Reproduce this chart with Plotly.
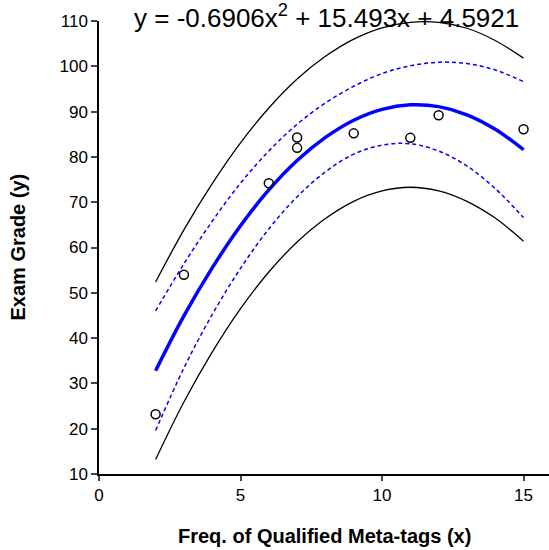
import plotly.graph_objects as go

# Observed data
x_obs = [2, 3, 6, 7, 7, 9, 11, 12, 15]
y_obs = [23.2, 54.0, 74.2, 84.3, 82.0, 85.2, 84.2, 89.2, 86.1]

# Curves at integer x
x_curve = [2, 3, 4, 5, 6, 7, 8, 9, 10, 11, 12, 13, 14, 15]
y_fit = [32.8, 44.9, 55.5, 64.8, 72.7, 79.2, 84.3, 88.1, 90.5, 91.5, 91.1, 89.3, 86.1, 81.6]
y_ci_upper = [46.0, 56.4, 65.8, 74.2, 81.3, 87.2, 91.9, 95.6, 98.4, 100.1, 100.9, 100.6, 99.2, 96.6]
y_ci_lower = [19.6, 33.4, 45.2, 55.4, 64.1, 71.2, 76.7, 80.6, 82.6, 82.9, 81.3, 78.0, 73.0, 66.6]
y_pi_upper = [52.4, 63.9, 74.1, 83.1, 90.8, 97.2, 102.2, 106.0, 108.5, 109.7, 109.7, 108.4, 105.7, 101.8]
y_pi_lower = [13.2, 25.9, 36.9, 46.5, 54.6, 61.2, 66.4, 70.2, 72.5, 73.3, 72.5, 70.2, 66.5, 61.4]

equation = "y = -0.6906x<sup>2</sup> + 15.493x + 4.5921"
x_title = "<b>Freq. of Qualified Meta-tags (x)</b>"
y_title = "<b>Exam Grade (y)</b>"
x_ticks = [0, 5, 10, 15]
y_ticks = [10, 20, 30, 40, 50, 60, 70, 80, 90, 100, 110]

FONT = "Arial, Liberation Sans, sans-serif"

fig = go.Figure()
for yy in (y_pi_upper, y_pi_lower):
    fig.add_trace(go.Scatter(x=x_curve, y=yy, mode="lines",
                             line=dict(color="black", width=1.3, shape="spline"),
                             showlegend=False, hoverinfo="skip"))
for yy in (y_ci_upper, y_ci_lower):
    fig.add_trace(go.Scatter(x=x_curve, y=yy, mode="lines",
                             line=dict(color="#0000ff", width=1.5, dash="4px,3px", shape="spline"),
                             showlegend=False, hoverinfo="skip"))
fig.add_trace(go.Scatter(x=x_curve, y=y_fit, mode="lines",
                         line=dict(color="#0000ff", width=3.5, shape="spline"),
                         showlegend=False, hoverinfo="skip"))
fig.add_trace(go.Scatter(x=x_obs, y=y_obs, mode="markers",
                         marker=dict(symbol="circle-open", size=9, color="black",
                                     line=dict(width=1.5, color="black")),
                         showlegend=False))

fig.update_layout(
    width=549, height=550,
    margin=dict(l=99, r=0, t=21, b=76),
    paper_bgcolor="white", plot_bgcolor="white",
    font=dict(family=FONT, size=17, color="black"),
    xaxis=dict(range=[0, 15.9], tickvals=x_ticks, ticks="outside", ticklen=5, tickwidth=1.5,
               showline=True, linecolor="black", linewidth=1.5, showgrid=False, zeroline=False,
               tickfont=dict(size=17, family=FONT)),
    yaxis=dict(range=[10, 110], tickvals=y_ticks, ticks="outside", ticklen=6, tickwidth=1.5,
               showline=True, linecolor="black", linewidth=1.5, showgrid=False, zeroline=False,
               tickfont=dict(size=17, family=FONT)),
    annotations=[
        dict(text=equation, xref="paper", yref="paper", x=0.506, y=1, yshift=5,
             xanchor="center", yanchor="middle", showarrow=False,
             font=dict(size=26, family=FONT, color="black")),
        dict(text=x_title, xref="paper", yref="paper", x=0.5, y=0, yshift=-62,
             xanchor="center", yanchor="middle", showarrow=False,
             font=dict(size=20, family=FONT, color="black")),
        dict(text=y_title, xref="paper", yref="paper", x=0, y=0.5, xshift=-82,
             xanchor="center", yanchor="middle", textangle=-90, showarrow=False,
             font=dict(size=20, family=FONT, color="black")),
    ],
)

fig.write_html("out.html", config={"displayModeBar": False},
               post_script="document.body.style.margin='0';document.body.style.padding='0';")
